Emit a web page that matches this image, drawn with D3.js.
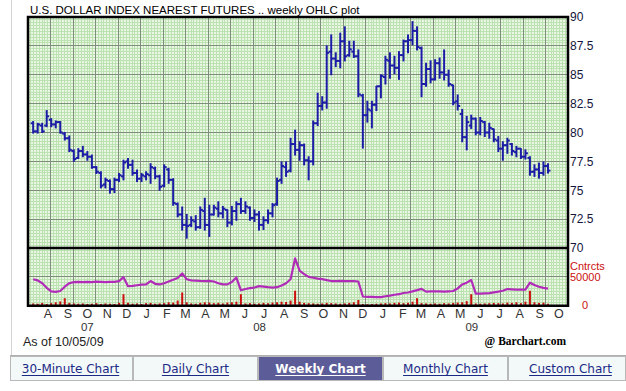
<!DOCTYPE html>
<html>
<head>
<meta charset="utf-8">
<script src="https://cdn.jsdelivr.net/npm/d3@7"></script>
<style>
  body { margin: 0; background: #fff; }
  svg { display: block; }
</style>
</head>
<body>
<svg id="chart" width="626" height="391"></svg>
<script>
// weekly bars, first week of the series
const firstWeek = "2007-07-23"

const opens = [80.8,80.1,80.6,80.6,81.1,80.7,80.9,79.9,79.5,78.4,
  77.8,78.4,78.1,77.9,77.0,76.5,75.5,75.8,75.1,75.9,
  76.2,77.5,77.2,76.5,76.0,76.2,76.3,76.9,76.2,75.4,
  76.8,75.9,73.8,72.9,72.0,72.0,72.3,71.8,73.2,72.0,
  72.9,73.4,73.0,73.3,72.2,73.2,73.8,73.2,73.5,72.6,
  72.9,72.0,72.4,73.0,73.8,75.9,77.0,76.7,79.0,78.5,
  78.9,77.6,77.5,80.8,82.3,82.6,87.0,86.4,86.2,87.9,
  86.7,87.0,86.6,83.2,81.5,81.9,82.4,84.0,84.8,86.2,
  85.8,85.6,86.7,87.9,88.0,88.8,87.3,84.2,85.5,84.6,
  86.0,85.2,85.0,84.1,82.7,81.6,79.6,80.6,81.2,80.0,
  80.9,80.0,80.3,79.3,78.6,78.9,79.0,78.3,78.6,77.9,
  77.8,76.6,76.8,76.5,77.1]
const highs = [80.95,80.8,80.8,81.9,81.2,81.0,80.95,80.0,79.7,78.5,
  78.6,78.8,78.35,78.05,77.05,76.6,76.05,75.9,76.05,76.45,
  77.6,77.75,77.6,76.75,76.45,76.6,77.3,77.0,76.3,77.2,
  76.9,76.0,73.9,73.55,72.9,72.7,72.8,73.55,74.3,73.7,
  73.7,74.0,73.6,73.3,73.6,74.0,74.3,74.0,73.55,73.3,
  73.15,72.7,73.3,73.85,76.05,77.45,77.45,79.5,80.2,79.2,
  79.0,77.9,81.0,83.4,83.1,87.5,88.45,86.9,88.6,89.15,
  87.9,87.9,87.15,83.3,82.7,82.7,84.0,85.0,86.6,86.9,
  86.6,87.0,88.0,88.45,89.6,89.15,87.4,86.0,86.2,86.3,
  86.45,87.15,85.4,84.1,83.25,82.0,81.4,81.5,81.25,81.3,
  80.95,80.8,80.3,79.65,79.2,79.5,79.05,78.8,78.6,78.5,
  77.9,77.2,77.35,77.45,77.3]
const lows = [79.95,79.95,80.0,80.5,80.5,80.4,79.95,79.35,78.35,77.5,
  77.75,77.9,77.6,76.9,76.45,75.2,75.2,74.75,74.8,75.75,
  75.9,76.9,76.3,75.75,75.75,75.9,75.6,76.0,75.0,75.3,
  75.6,73.7,72.7,71.55,70.85,71.85,71.55,71.7,71.55,71.0,
  72.85,72.7,72.6,71.85,72.0,72.4,73.0,73.0,72.4,72.3,
  71.55,71.6,72.15,72.7,73.7,75.6,76.2,76.6,78.05,77.6,
  77.2,75.9,77.2,80.6,81.95,82.1,85.0,85.7,85.6,86.2,
  86.6,86.5,83.1,78.65,80.9,80.4,81.9,83.0,84.2,84.7,
  85.1,84.6,86.2,86.9,87.6,87.15,83.1,84.0,84.3,84.55,
  84.7,84.55,84.0,82.4,81.95,79.2,78.5,80.35,79.8,79.8,
  79.65,79.5,79.2,78.35,77.6,78.2,78.05,77.9,77.75,77.7,
  76.3,76.2,76.05,76.3,76.5]
const closes = [80.1,80.7,80.1,81.4,80.7,80.9,80.0,79.5,78.5,77.7,
  78.4,78.1,77.9,77.0,76.6,75.4,75.9,75.1,75.9,76.3,
  77.4,77.2,76.5,76.0,76.3,76.4,77.0,76.2,75.3,77.0,
  75.9,73.9,72.9,72.0,71.9,72.4,71.8,73.3,72.0,72.9,
  73.5,73.0,73.4,72.2,73.2,73.8,73.2,73.6,72.6,72.9,
  72.0,72.4,73.0,73.7,75.8,77.1,76.6,79.0,78.5,78.9,
  77.6,77.5,80.8,82.3,82.6,86.9,86.4,86.2,87.9,86.6,
  87.2,86.6,83.3,81.5,82.0,82.4,84.0,84.9,86.3,85.8,
  85.6,86.7,87.9,88.0,88.8,87.4,84.2,85.5,84.6,86.0,
  85.2,85.0,84.2,82.6,82.3,79.6,80.9,81.2,80.0,81.0,
  80.0,80.4,79.4,78.6,78.9,79.3,78.4,78.6,77.9,78.2,
  76.6,76.8,76.5,77.1,76.7]

// contracts traded per week
const volume = [4000,3500,5000,3000,4500,6000,7500,13000,5000,4000,
  3500,4000,3000,3500,4500,3000,4000,3500,3000,5000,
  20000,5000,3500,4000,3000,4500,5000,3500,4000,4500,
  6000,5500,9000,23000,6000,4000,3500,5000,6000,5500,
  4500,5000,4000,5500,6000,7000,20000,4000,4500,3500,
  4000,5000,4500,5500,6000,7000,6500,9000,26000,7000,
  5000,4500,4000,3500,4000,5000,4500,4000,3500,4000,
  5000,6000,10000,3000,2500,3000,3500,4000,4500,4000,
  5000,5500,4500,5000,7000,13000,4500,4000,3500,4000,
  3500,4500,4000,5000,5500,6000,8000,20000,4000,3500,
  4000,4500,5000,4500,4000,5500,5000,6000,4500,7000,
  26000,6000,5000,5500,3500]
// open interest, contracts
const openInterest = [45900,44000,39000,31000,25000,23900,25500,33000,39000,41000,
  41500,41000,41500,41000,41800,41500,41000,41200,41500,42500,
  49500,33900,34500,35500,36500,37000,42800,38000,36900,39000,
  42000,45000,48000,56000,45900,44000,43500,43000,42800,43000,
  42000,39000,37000,37000,41000,48900,26750,29000,30500,31500,
  33900,33000,32100,31500,32100,35000,39000,45900,82000,60700,
  54800,50000,48500,47000,46000,44500,42800,42800,43000,42500,
  42800,42800,42000,16000,15500,15500,15000,15000,16500,17500,
  19000,20000,22100,23000,25000,27000,29250,24500,25000,25000,
  25000,24500,25000,25500,30000,36900,40000,44600,20900,21000,
  21500,22000,23200,24500,26000,29000,28500,28000,28000,28000,
  40000,36000,33000,31000,29800]

const monthLabels = ["A","S","O","N","D","J","F","M","A","M","J","J","A","S",
  "O","N","D","J","F","M","A","M","J","J","A","S","O"]
const yearLabels = ["07", "08", "09"]
const yearLabelDates = ["2007-10-15", "2008-07-08", "2009-06-02"]
const priceTicks = [90, 87.5, 85, 82.5, 80, 77.5, 75, 72.5, 70]
const tabs = ["30-Minute Chart", "Daily Chart", "Weekly Chart", "Monthly Chart", "Custom Chart"]
const selectedTab = "Weekly Chart"

const svg = d3.select("#chart")
const plot = { left: 28, right: 568, top: 17, mid: 248, bottom: 305.75 }
const parse = d3.utcParse("%Y-%m-%d")
const sans = "Liberation Sans, Arial, sans-serif"

const bars = opens.map((o, i) => ({
  date: d3.utcWeek.offset(parse(firstWeek), i),
  open: o, high: highs[i], low: lows[i], close: closes[i],
  vol: volume[i], oi: openInterest[i]
}))

const x = d3.scaleUtc()
  .domain([parse("2007-07-15"), parse("2009-10-29")])
  .range([plot.left, plot.right])
const y = d3.scaleLinear().domain([70, 90]).range([plot.mid, plot.top])
const yv = d3.scaleLinear().domain([0, 100000]).range([plot.bottom, plot.mid])

svg.append("rect").attr("width", 626).attr("height", 391).attr("fill", "#fff")

// page frame
svg.append("line").attr("x1", 11.5).attr("x2", 11.5).attr("y1", 0).attr("y2", 355)
  .attr("stroke", "#d4d4d4")

// plot background + graph paper grid
svg.append("rect")
  .attr("x", plot.left).attr("y", plot.top)
  .attr("width", plot.right - plot.left).attr("height", plot.bottom - plot.top)
  .attr("fill", "#eaf6e4")

const grid = svg.append("g").attr("shape-rendering", "crispEdges")
const gx = d3.scaleLinear().domain([0, 24]).range([plot.left, plot.right])

grid.append("g").selectAll("line")
  .data(d3.range(0, 24.001, 1 / 8))
  .join("line")
  .attr("x1", d => gx(d)).attr("x2", d => gx(d))
  .attr("y1", plot.top).attr("y2", plot.bottom)
  .attr("stroke", "#bde2b2")
grid.append("g").selectAll("line")
  .data(d3.range(70, 90.001, 0.25))
  .join("line")
  .attr("y1", d => y(d)).attr("y2", d => y(d))
  .attr("x1", plot.left).attr("x2", plot.right)
  .attr("stroke", "#bde2b2")
grid.append("g").selectAll("line")
  .data(d3.range(0, 100001, 5000))
  .join("line")
  .attr("y1", d => yv(d)).attr("y2", d => yv(d))
  .attr("x1", plot.left).attr("x2", plot.right)
  .attr("stroke", "#bde2b2")

grid.append("g").selectAll("line")
  .data(d3.range(1, 24))
  .join("line")
  .attr("x1", d => gx(d)).attr("x2", d => gx(d))
  .attr("y1", plot.top).attr("y2", plot.bottom)
  .attr("stroke", "#7d8f7a")
grid.append("g").selectAll("line")
  .data(priceTicks.slice(1, -1))
  .join("line")
  .attr("y1", d => y(d)).attr("y2", d => y(d))
  .attr("x1", plot.left).attr("x2", plot.right)
  .attr("stroke", "#7d8f7a")
grid.append("line")
  .attr("y1", yv(50000)).attr("y2", yv(50000))
  .attr("x1", plot.left).attr("x2", plot.right)
  .attr("stroke", "#7d8f7a")

// volume bars
svg.append("g")
  .attr("stroke", "#cc1010")
  .attr("stroke-width", 2)
  .selectAll("line")
  .data(bars)
  .join("line")
  .attr("x1", d => x(d.date)).attr("x2", d => x(d.date))
  .attr("y1", yv(0)).attr("y2", d => yv(d.vol))

// open interest line
svg.append("path")
  .datum(bars)
  .attr("fill", "none")
  .attr("stroke", "#b02cb8")
  .attr("stroke-width", 2.2)
  .attr("stroke-linejoin", "round")
  .attr("d", d3.line().x(d => x(d.date)).y(d => yv(d.oi)))

// OHLC bars
const ohlc = svg.append("g")
  .attr("stroke", "#1c1ca6")
  .attr("stroke-width", 2)
  .selectAll("g")
  .data(bars)
  .join("g")
ohlc.append("line")
  .attr("x1", d => x(d.date)).attr("x2", d => x(d.date))
  .attr("y1", d => y(d.high) - 0.5).attr("y2", d => y(d.low) + 0.5)
ohlc.append("line")
  .attr("x1", d => x(d.date) - 2.5).attr("x2", d => x(d.date))
  .attr("y1", d => y(d.open)).attr("y2", d => y(d.open))
ohlc.append("line")
  .attr("x1", d => x(d.date)).attr("x2", d => x(d.date) + 2.5)
  .attr("y1", d => y(d.close)).attr("y2", d => y(d.close))

// frame
svg.append("rect")
  .attr("x", plot.left).attr("y", plot.top)
  .attr("width", plot.right - plot.left).attr("height", plot.bottom - plot.top)
  .attr("fill", "none").attr("stroke", "#000").attr("stroke-width", 2.5)
svg.append("line")
  .attr("x1", plot.left).attr("x2", plot.right)
  .attr("y1", plot.mid).attr("y2", plot.mid)
  .attr("stroke", "#000").attr("stroke-width", 2.5)

// title
svg.append("text")
  .attr("x", 30).attr("y", 14)
  .attr("font-family", sans)
  .attr("font-size", 11.5)
  .attr("fill", "#000")
  .text("U.S. DOLLAR INDEX NEAREST FUTURES .. weekly OHLC plot")

// right price axis
const yAxis = svg.append("g")
  .attr("transform", `translate(${plot.right},0)`)
  .call(d3.axisRight(y).tickValues(priceTicks).tickSize(0).tickPadding(2)
    .tickFormat(d => String(d)))
yAxis.select(".domain").remove()
yAxis.selectAll("text")
  .attr("font-family", sans)
  .attr("font-size", 12)
  .attr("fill", "#14143c")

// volume axis labels
const volText = svg.append("g")
  .attr("font-family", sans)
  .attr("font-size", 11)
  .attr("fill", "#cc1010")
volText.append("text").attr("x", 570).attr("y", 269.5).text("Cntrcts")
volText.append("text").attr("x", 570).attr("y", 280.5).text("50000")
volText.append("text").attr("x", 582).attr("y", 309).text("0")

// month and year labels
const months = d3.utcMonth.range(parse("2007-08-01"), parse("2009-11-01"))
svg.append("g")
  .attr("font-family", sans)
  .attr("font-size", 12.5)
  .attr("fill", "#333")
  .attr("text-anchor", "middle")
  .selectAll("text")
  .data(months)
  .join("text")
  .attr("x", d => x(d3.utcDay.offset(d, 14)))
  .attr("y", 318)
  .text((d, i) => monthLabels[i])

svg.append("g")
  .attr("font-family", sans)
  .attr("font-size", 11.5)
  .attr("fill", "#333")
  .attr("text-anchor", "middle")
  .selectAll("text")
  .data(yearLabels)
  .join("text")
  .attr("x", (d, i) => x(parse(yearLabelDates[i])))
  .attr("y", 331)
  .text(d => d)

svg.append("text")
  .attr("x", 23).attr("y", 346)
  .attr("font-family", sans)
  .attr("font-size", 12.5)
  .attr("fill", "#222")
  .text("As of 10/05/09")

svg.append("text")
  .attr("x", 566).attr("y", 345)
  .attr("text-anchor", "end")
  .attr("font-family", "Liberation Serif, Times New Roman, serif")
  .attr("font-weight", "bold")
  .attr("font-size", 11.5)
  .attr("fill", "#000")
  .text("@ Barchart.com")

// chart period tabs
const tabX = d3.scaleBand().domain(tabs).range([8, 633])
svg.append("line").attr("x1", 10).attr("x2", 626).attr("y1", 355.5).attr("y2", 355.5)
  .attr("stroke", "#b0b0b0")
const tab = svg.append("g").selectAll("g").data(tabs).join("g")
tab.append("rect")
  .attr("x", d => Math.max(10, tabX(d)) + 0.5)
  .attr("y", 356.5)
  .attr("width", d => Math.min(626, tabX(d) + tabX.bandwidth()) - Math.max(10, tabX(d)) - 1)
  .attr("height", 24)
  .attr("fill", d => d === selectedTab ? "#5c5c98" : "#f3f9f9")
  .attr("stroke", "#b8b8b8")
tab.append("text")
  .attr("x", d => tabX(d) + tabX.bandwidth() / 2)
  .attr("y", 373)
  .attr("text-anchor", "middle")
  .attr("font-family", "DejaVu Sans, Verdana, sans-serif")
  .attr("font-size", 12)
  .attr("font-weight", d => d === selectedTab ? "bold" : "normal")
  .attr("fill", d => d === selectedTab ? "#fff" : "#1c2a86")
  .text(d => d)
tab.each(function (d) {
  const t = d3.select(this).select("text").node()
  const w = t.getComputedTextLength()
  const cx = tabX(d) + tabX.bandwidth() / 2
  d3.select(this).append("line")
    .attr("x1", cx - w / 2).attr("x2", cx + w / 2)
    .attr("y1", 375.5).attr("y2", 375.5)
    .attr("stroke", d === selectedTab ? "#fff" : "#1c2a86")
})
</script>
</body>
</html>
